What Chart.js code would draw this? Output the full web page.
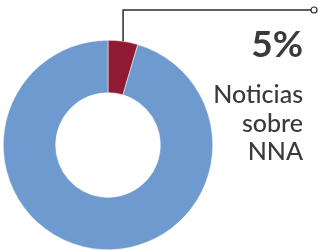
<!DOCTYPE html>
<html>
<head>
<meta charset="utf-8">
<script src="https://cdn.jsdelivr.net/npm/chart.js@4"></script>
<style>
  html, body { margin: 0; padding: 0; background: #fff; }
  #wrap { position: relative; width: 318px; height: 251px; overflow: hidden; }
  #pct { position: absolute; right: 15px; top: 20px; font: bold 37px Lato, sans-serif; color: #3a3a3a; }
  #lbl { position: absolute; right: 15px; top: 79px; font: 500 25px Lato, sans-serif; line-height: 28.5px; color: #3a3a3a; text-align: right; }
</style>
</head>
<body>
<div id="wrap">
  <canvas id="donut" width="318" height="251"></canvas>
  <div id="pct">5%</div>
  <div id="lbl">Noticias<br>sobre<br>NNA</div>
</div>
<script>
// Data
const labels = ['Noticias sobre NNA', 'Otras noticias'];
const values = [4.6, 95.4];
const colors = ['#8e1a33', '#6f9acf'];

// callout from the red slice up and over to the right
const callout = {
  id: 'callout',
  afterDatasetsDraw(chart) {
    const arc = chart.getDatasetMeta(0).data[0];
    if (!arc) return;
    const mid = (arc.startAngle + arc.endAngle) / 2;
    const x = arc.x + Math.cos(mid) * arc.outerRadius;
    const y = arc.y + Math.sin(mid) * arc.outerRadius;
    const ctx = chart.ctx;
    ctx.save();
    ctx.strokeStyle = '#2b2b2b';
    ctx.lineWidth = 1.5;
    ctx.beginPath();
    ctx.moveTo(x, y);
    ctx.lineTo(x, 10);
    ctx.lineTo(311, 10);
    ctx.stroke();
    ctx.beginPath();
    ctx.arc(314, 10, 3, 0, Math.PI * 2);
    ctx.fillStyle = '#fff';
    ctx.fill();
    ctx.lineWidth = 1.2;
    ctx.stroke();
    ctx.restore();
  }
};

new Chart(document.getElementById('donut'), {
  type: 'doughnut',
  data: {
    labels: labels,
    datasets: [{
      data: values,
      backgroundColor: colors,
      borderColor: '#ffffff',
      borderWidth: 0.5
    }]
  },
  options: {
    responsive: false,
    animation: false,
    cutout: '50%',
    layout: { padding: { left: 3, top: 40, right: 105, bottom: 1 } },
    plugins: {
      legend: { display: false },
      tooltip: { enabled: false }
    }
  },
  plugins: [callout]
});
</script>
</body>
</html>
